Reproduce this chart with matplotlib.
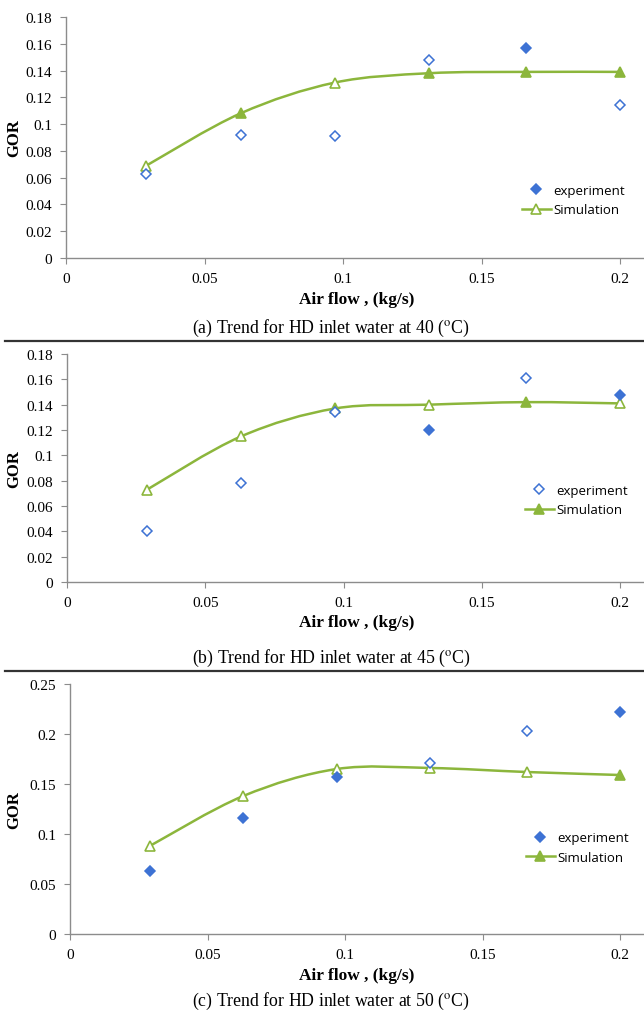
import numpy as np
import matplotlib
matplotlib.use("Agg")
import matplotlib.pyplot as plt
from matplotlib.path import Path
from matplotlib.patches import PathPatch
from matplotlib.lines import Line2D
from matplotlib.ticker import FuncFormatter, MultipleLocator

plt.rcParams['font.family'] = ['Liberation Serif', 'DejaVu Serif']
plt.rcParams['mathtext.fontset'] = 'stix'

# data
air_flow = [0.029, 0.063, 0.097, 0.131, 0.166, 0.2]

exp_40 = [0.063, 0.092, 0.091, 0.148, 0.157, 0.114]
sim_40 = [0.069, 0.108, 0.131, 0.138, 0.139, 0.139]

exp_45 = [0.040, 0.078, 0.134, 0.120, 0.161, 0.148]
sim_45 = [0.073, 0.115, 0.137, 0.140, 0.142, 0.141]

exp_50 = [0.063, 0.116, 0.157, 0.171, 0.203, 0.222]
sim_50 = [0.088, 0.138, 0.165, 0.166, 0.162, 0.159]

captions = ["(a) Trend for HD inlet water at 40 ($^{\\mathrm{o}}$C)",
            "(b) Trend for HD inlet water at 45 ($^{\\mathrm{o}}$C)",
            "(c) Trend for HD inlet water at 50 ($^{\\mathrm{o}}$C)"]

BLUE = '#3d72d4'
GREEN = '#8cb63c'
GRAY = '#8c8c8c'

W, H = 644, 1012
fig = plt.figure(figsize=(W / 100, H / 100), dpi=100)


def smooth_path(x, y):
    # bezier segments (catmull-rom style) like excel's smoothed line
    pts = np.column_stack([x, y])
    n = len(pts)
    verts = [pts[0]]
    codes = [Path.MOVETO]
    for i in range(n - 1):
        p0 = pts[max(i - 1, 0)]
        p1 = pts[i]
        p2 = pts[i + 1]
        p3 = pts[min(i + 2, n - 1)]
        c1 = p1 + (p2 - p0) / 6.0
        c2 = p2 - (p3 - p1) / 6.0
        verts += [c1, c2, p2]
        codes += [Path.CURVE4] * 3
    return Path(verts, codes)


# panel settings: (box in pixels), ymax, ystep, fill flags, legend fill
panels = [
    dict(exp=exp_40, sim=sim_40, box=(66, 18, 259), ymax=0.18, ystep=0.02,
         efill=[0, 0, 0, 0, 1, 0], sfill=[0, 1, 0, 1, 1, 1], leg=(1, 0),
         legxy=(0.768, 0.24), ylab=138, xlab=300, cap=328),
    dict(exp=exp_45, sim=sim_45, box=(67, 355, 583), ymax=0.18, ystep=0.02,
         efill=[0, 0, 0, 1, 0, 1], sfill=[0, 0, 1, 0, 1, 0], leg=(0, 1),
         legxy=(0.773, 0.36), ylab=469, xlab=623, cap=658),
    dict(exp=exp_50, sim=sim_50, box=(70, 685, 935), ymax=0.25, ystep=0.05,
         efill=[1, 1, 1, 0, 0, 1], sfill=[0, 0, 0, 0, 0, 1], leg=(1, 1),
         legxy=(0.773, 0.345), ylab=810, xlab=976, cap=1001),
]

for k, p in enumerate(panels):
    left, top, bottom = p['box']
    ax = fig.add_axes([left / W, 1 - bottom / H, 1 - left / W, (bottom - top) / H])
    x0 = (620 - left) / 0.2
    ax.set_xlim(0, (W - left) / x0)
    ax.set_ylim(0, p['ymax'])

    # smoothed simulation line
    ax.add_patch(PathPatch(smooth_path(air_flow, p['sim']), facecolor='none',
                           edgecolor=GREEN, lw=1.8, zorder=2))
    for xi, yi, f in zip(air_flow, p['sim'], p['sfill']):
        ax.plot(xi, yi, marker='^', ms=7.5, mec=GREEN, mew=1.2,
                mfc=GREEN if f else 'white', ls='none', zorder=3)
    for xi, yi, f in zip(air_flow, p['exp'], p['efill']):
        ax.plot(xi, yi, marker='D', ms=5.5, mec=BLUE, mew=1.1,
                mfc=BLUE if f else 'white', ls='none', zorder=4)

    for s in ['top', 'right']:
        ax.spines[s].set_visible(False)
    for s in ['left', 'bottom']:
        ax.spines[s].set_color(GRAY)
        ax.spines[s].set_linewidth(1.0)
    ax.xaxis.set_major_locator(MultipleLocator(0.05))
    ax.yaxis.set_major_locator(MultipleLocator(p['ystep']))
    fmt = FuncFormatter(lambda v, pos: '%g' % round(v, 4))
    ax.xaxis.set_major_formatter(fmt)
    ax.yaxis.set_major_formatter(fmt)
    ax.tick_params(direction='out', length=4, color=GRAY, labelsize=11,
                   pad=6)

    ef, sf = p['leg']
    handles = [Line2D([], [], marker='D', ms=5.5, mec=BLUE, mew=1.1,
                      mfc=BLUE if ef else 'white', ls='none'),
               Line2D([], [], marker='^', ms=7.5, mec=GREEN, mew=1.2,
                      mfc=GREEN if sf else 'white', color=GREEN, lw=1.8)]
    ax.legend(handles, ['experiment', 'Simulation'], loc='center left',
              bbox_to_anchor=p['legxy'], frameon=False,
              prop={'family': 'Open Sans', 'size': 9.5},
              handlelength=2.2, handletextpad=0.2, labelspacing=0.5)

    fig.text(14 / W, 1 - p['ylab'] / H, 'GOR', rotation=90, ha='center',
             va='center', fontsize=12, fontweight='bold')
    fig.text(357 / W, 1 - p['xlab'] / H, 'Air flow , (kg/s)', ha='center',
             va='center', fontsize=12.5, fontweight='bold')
    fig.text(331 / W, 1 - p['cap'] / H, captions[k], ha='center',
             va='center', fontsize=12.8)

for yl in [342, 672]:
    fig.add_artist(Line2D([5 / W, 1], [1 - yl / H, 1 - yl / H],
                          color='#333333', lw=1.6))

fig.savefig('out.png', dpi=100)
